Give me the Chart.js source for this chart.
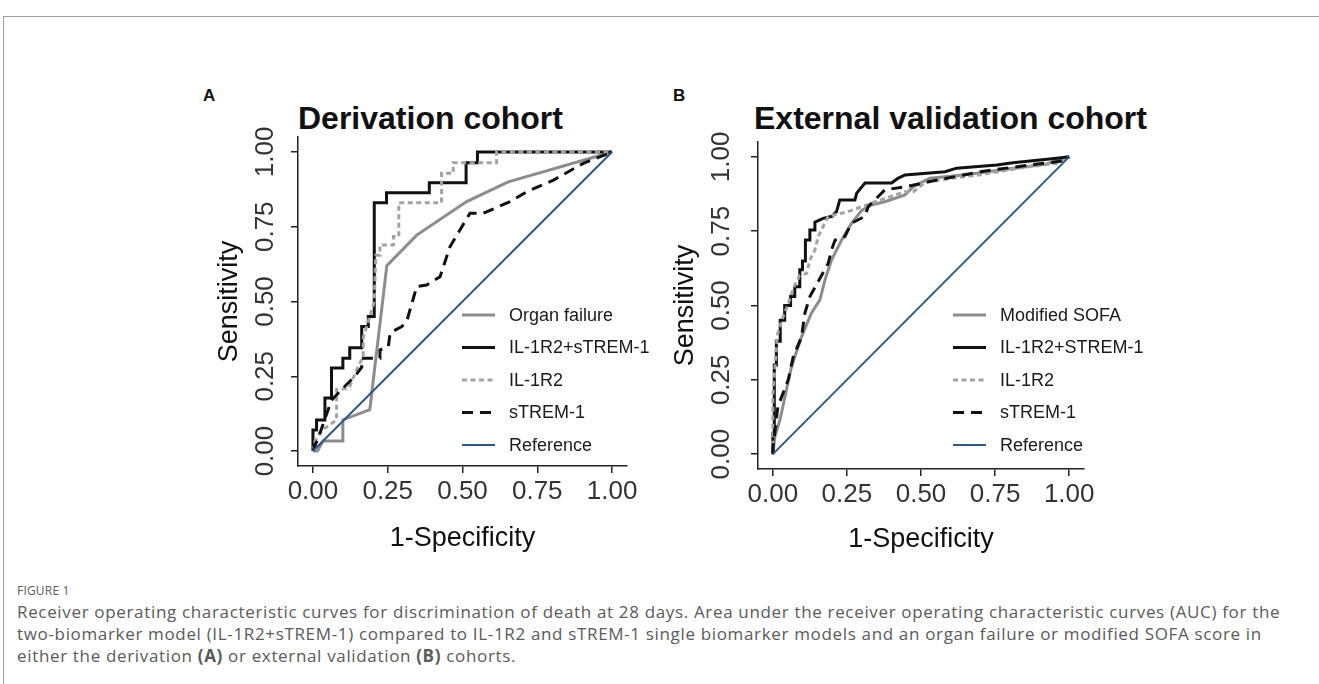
<!DOCTYPE html>
<html>
<head>
<meta charset="utf-8">
<script src="https://cdn.jsdelivr.net/npm/chart.js@4.4.1/dist/chart.umd.min.js"></script>
<style>
  body { margin: 0; background: #fff; width: 1319px; height: 684px; overflow: hidden; position: relative;
         font-family: "Liberation Sans", Arial, sans-serif; }
  .frame { position: absolute; left: 3px; top: 16px; width: 1330px; height: 700px;
           border-left: 1px solid #a0a0a0; border-top: 1px solid #a0a0a0; }
  .panel { position: absolute; height: 520px; }
  .letter { position: absolute; font-weight: bold; font-size: 17px; line-height: 17px; color: #111; }
  .title { position: absolute; font-weight: bold; font-size: 32px; line-height: 32px; color: #111; white-space: nowrap; }
  .cap { position: absolute; left: 17px; color: #5a5a5a; font-family: "Open Sans", sans-serif; white-space: nowrap; }
  .fig { top: 582px; font-size: 12px; letter-spacing: 0.2px; }
  .line { font-size: 17px; line-height: 22px; letter-spacing: 0.66px; }
</style>
</head>
<body>
<div class="frame"></div>

<div class="letter" style="left:203px;top:87px">A</div>
<div class="letter" style="left:673px;top:87px">B</div>
<div class="title" style="left:298px;top:102px">Derivation cohort</div>
<div class="title" style="left:754px;top:102px">External validation cohort</div>

<div class="panel" style="left:180px;top:60px;width:480px"><canvas id="chartA" width="480" height="520"></canvas></div>
<div class="panel" style="left:640px;top:64px;width:560px"><canvas id="chartB" width="560" height="520"></canvas></div>

<div class="cap fig">FIGURE 1</div>
<div class="cap line" style="top:601px">Receiver operating characteristic curves for discrimination of death at 28 days. Area under the receiver operating characteristic curves (AUC) for the</div>
<div class="cap line" style="top:623px">two-biomarker model (IL-1R2+sTREM-1) compared to IL-1R2 and sTREM-1 single biomarker models and an organ failure or modified SOFA score in</div>
<div class="cap line" style="top:645px">either the derivation <b>(A)</b> or external validation <b>(B)</b> cohorts.</div>

<script>
// axis ticks (1-Specificity / Sensitivity)
const tickVals = [0, 0.25, 0.5, 0.75, 1];

// legend labels
const labelsA = ['Organ failure', 'IL-1R2+sTREM-1', 'IL-1R2', 'sTREM-1', 'Reference'];
const labelsB = ['Modified SOFA', 'IL-1R2+STREM-1', 'IL-1R2', 'sTREM-1', 'Reference'];

// Derivation cohort ROC curves, [1-specificity, sensitivity]
const derivOrgan = [[0,0],[0.015,0],[0.034,0.034],[0.1,0.034],[0.1,0.104],[0.19,0.138],[0.247,0.62],
  [0.347,0.722],[0.514,0.834],[0.653,0.9],[1,1]];
const derivCombo = [[0,0],[0,0.07],[0.012,0.07],[0.012,0.104],[0.04,0.104],[0.04,0.177],[0.062,0.177],
  [0.062,0.278],[0.1,0.278],[0.1,0.31],[0.123,0.31],[0.123,0.345],[0.163,0.345],[0.163,0.416],
  [0.185,0.416],[0.185,0.45],[0.205,0.45],[0.205,0.83],[0.246,0.83],[0.246,0.864],[0.389,0.864],
  [0.389,0.897],[0.512,0.897],[0.512,0.964],[0.55,0.964],[0.55,1],[1,1]];
const derivIL = [[0,0],[0.007,0.034],[0.03,0.069],[0.079,0.104],[0.079,0.206],[0.12,0.21],[0.15,0.28],
  [0.168,0.315],[0.168,0.38],[0.19,0.45],[0.205,0.5],[0.21,0.655],[0.224,0.655],[0.224,0.689],
  [0.269,0.689],[0.269,0.717],[0.287,0.717],[0.287,0.83],[0.43,0.83],[0.43,0.929],[0.469,0.929],
  [0.469,0.964],[0.614,0.964],[0.614,1],[1,1]];
const derivStrem = [[0,0],[0.023,0.059],[0.062,0.17],[0.1,0.21],[0.14,0.25],[0.163,0.28],[0.163,0.31],
  [0.224,0.31],[0.224,0.338],[0.252,0.349],[0.258,0.395],[0.297,0.416],[0.313,0.432],[0.347,0.55],
  [0.38,0.555],[0.425,0.583],[0.458,0.683],[0.525,0.795],[0.57,0.795],[0.659,0.834],[0.715,0.867],
  [0.804,0.906],[0.904,0.962],[1,1]];

// External validation cohort ROC curves
const validSofa = [[0,0],[0.007,0.059],[0.024,0.115],[0.063,0.294],[0.097,0.395],[0.13,0.474],
  [0.159,0.519],[0.176,0.586],[0.198,0.653],[0.232,0.72],[0.266,0.777],[0.3,0.82],[0.333,0.838],
  [0.378,0.849],[0.446,0.872],[0.474,0.9],[0.53,0.928],[0.65,0.94],[0.8,0.96],[0.92,0.975],[1,1]];
const validCombo = [[0,0],[0,0.07],[0.005,0.07],[0.005,0.3],[0.012,0.3],[0.012,0.38],[0.025,0.38],
  [0.025,0.45],[0.04,0.45],[0.04,0.5],[0.06,0.5],[0.06,0.53],[0.074,0.53],[0.074,0.563],[0.091,0.563],
  [0.091,0.62],[0.1,0.62],[0.1,0.65],[0.11,0.65],[0.11,0.72],[0.125,0.72],[0.125,0.754],[0.142,0.754],
  [0.142,0.78],[0.17,0.793],[0.2,0.8],[0.215,0.816],[0.226,0.855],[0.277,0.855],[0.283,0.878],
  [0.311,0.912],[0.401,0.912],[0.422,0.928],[0.446,0.939],[0.581,0.95],[0.62,0.962],[0.756,0.973],
  [0.81,0.98],[0.958,0.995],[1,1]];
const validIL = [[0,0],[0,0.2],[0.008,0.3],[0.015,0.4],[0.03,0.45],[0.05,0.5],[0.07,0.56],[0.09,0.6],
  [0.114,0.608],[0.125,0.653],[0.142,0.687],[0.153,0.732],[0.187,0.8],[0.255,0.816],[0.345,0.849],
  [0.446,0.883],[0.474,0.883],[0.518,0.917],[0.7,0.94],[0.85,0.965],[0.97,0.98],[1,1]];
const validStrem = [[0,0],[0.001,0.025],[0.017,0.16],[0.052,0.25],[0.069,0.328],[0.097,0.395],
  [0.108,0.474],[0.125,0.53],[0.187,0.642],[0.198,0.687],[0.21,0.72],[0.243,0.732],[0.266,0.777],
  [0.311,0.8],[0.322,0.833],[0.355,0.866],[0.378,0.889],[0.45,0.9],[0.53,0.917],[0.7,0.95],
  [0.868,0.973],[0.97,0.985],[1,1]];

const reference = [[0,0],[1,1]];

const FONT = '"Liberation Sans", Arial, sans-serif';

// line look for each legend entry, in legend order
const lineStyles = [
  { color: '#8c8c8c', width: 3, dash: [] },
  { color: '#111111', width: 3, dash: [] },
  { color: '#a3a3a3', width: 3, dash: [5, 3.5] },
  { color: '#111111', width: 3, dash: [11, 7] },
  { color: '#2a5a85', width: 2, dash: [] }
];

// rotated y tick labels + in-panel legend
const extrasPlugin = {
  id: 'extras',
  afterDraw(chart, args, opts) {
    const ctx = chart.ctx;
    const ys = chart.scales.y;
    ctx.save();
    ctx.font = '26px ' + FONT;
    ctx.fillStyle = '#333';
    ctx.textAlign = 'center';
    ctx.textBaseline = 'middle';
    ys.ticks.forEach(function(t) {
      const py = ys.getPixelForValue(t.value);
      ctx.save();
      ctx.translate(opts.yLabelX, py);
      ctx.rotate(-Math.PI / 2);
      ctx.fillText(t.value.toFixed(2), 0, 0);
      ctx.restore();
    });

    ctx.font = '18px ' + FONT;
    ctx.textAlign = 'left';
    chart.data.datasets.forEach(function(ds, i) {
      const y = opts.legendY + i * opts.legendGap;
      ctx.strokeStyle = ds.borderColor;
      ctx.lineWidth = ds.borderWidth;
      ctx.setLineDash(ds.borderDash || []);
      ctx.beginPath();
      ctx.moveTo(opts.legendX, y);
      ctx.lineTo(opts.legendX + 33, y);
      ctx.stroke();
      ctx.setLineDash([]);
      ctx.fillStyle = '#1a1a1a';
      ctx.fillText(ds.label, opts.legendX + 47, y + 1);
    });
    ctx.restore();
  }
};

function makeDataset(label, pts, i) {
  const s = lineStyles[i];
  return {
    label: label,
    data: pts.map(function(p) { return { x: p[0], y: p[1] }; }),
    borderColor: s.color,
    borderWidth: s.width,
    borderDash: s.dash,
    pointRadius: 0,
    tension: 0,
    fill: false,
    order: 5 - i
  };
}

function axisOpts(isX, fitSize, titlePad) {
  return {
    type: 'linear',
    min: -0.05,
    max: 1.05,
    afterBuildTicks: function(scale) { scale.ticks = tickVals.map(function(v) { return { value: v }; }); },
    afterFit: function(scale) { if (isX) scale.height = fitSize; else scale.width = fitSize; },
    border: { display: true, color: '#222', width: 1.5 },
    grid: { display: true, drawOnChartArea: false, drawTicks: true, tickLength: 7, color: '#222', lineWidth: 1.5 },
    ticks: {
      display: isX,
      font: { family: FONT, size: 26 },
      color: '#333',
      padding: 3,
      callback: function(v) { return Number(v).toFixed(2); }
    },
    title: {
      display: true,
      text: isX ? '1-Specificity' : 'Sensitivity',
      font: { family: FONT, size: 27 },
      color: '#111',
      padding: isX ? { top: 0, bottom: titlePad } : { top: titlePad, bottom: 0 }
    }
  };
}

// g: page geometry of one panel inside its canvas
function makeChart(id, labels, series, g) {
  const datasets = series.map(function(pts, i) { return makeDataset(labels[i], pts, i); });
  return new Chart(document.getElementById(id), {
    type: 'line',
    data: { datasets: datasets },
    plugins: [extrasPlugin],
    options: {
      responsive: false,
      animation: false,
      layout: { padding: { top: g.top, right: g.right, left: 0, bottom: 0 } },
      plugins: {
        legend: { display: false },
        title: { display: false },
        tooltip: { enabled: false },
        extras: { yLabelX: g.yLabelX, legendX: g.legendX, legendY: g.legendY, legendGap: 32.5 }
      },
      scales: {
        x: axisOpts(true, g.xHeight, g.xTitlePad),
        y: axisOpts(false, g.yWidth, g.yTitlePad)
      }
    }
  });
}

makeChart('chartA', labelsA, [derivOrgan, derivCombo, derivIL, derivStrem, reference],
  { top: 77, right: 33, xHeight: 114, yWidth: 118, yLabelX: 86, yTitlePad: 33, xTitlePad: 25, legendX: 282, legendY: 255 });
makeChart('chartB', labelsB, [validSofa, validCombo, validIL, validStrem, reference],
  { top: 78, right: 116, xHeight: 115, yWidth: 118, yLabelX: 82, yTitlePad: 29, xTitlePad: 28, legendX: 313, legendY: 251 });
</script>
</body>
</html>
